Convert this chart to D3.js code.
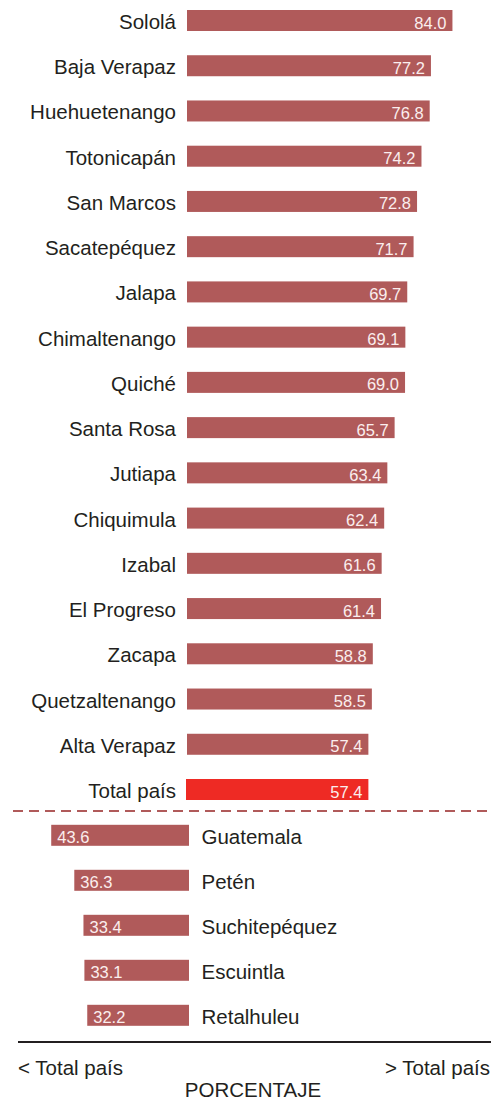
<!DOCTYPE html>
<html>
<head>
<meta charset="utf-8">
<script src="https://cdn.jsdelivr.net/npm/d3@7"></script>
<style>
  body { margin: 0; background: #fff; }
  text { font-family: "Liberation Sans", Arial, sans-serif; }
</style>
</head>
<body>
<svg id="chart" width="491" height="1101"></svg>
<script>
// departments above national total
const upperNames = ["Sololá", "Baja Verapaz", "Huehuetenango", "Totonicapán", "San Marcos",
  "Sacatepéquez", "Jalapa", "Chimaltenango", "Quiché", "Santa Rosa", "Jutiapa",
  "Chiquimula", "Izabal", "El Progreso", "Zacapa", "Quetzaltenango", "Alta Verapaz"];
const upperValues = [84.0, 77.2, 76.8, 74.2, 72.8, 71.7, 69.7, 69.1, 69.0, 65.7, 63.4,
  62.4, 61.6, 61.4, 58.8, 58.5, 57.4];
const totalName = "Total país";
const totalValue = 57.4;
// departments below national total
const lowerNames = ["Guatemala", "Petén", "Suchitepéquez", "Escuintla", "Retalhuleu"];
const lowerValues = [43.6, 36.3, 33.4, 33.1, 32.2];

const svg = d3.select("#chart");
const barColor = "#b05a5a";
const totalColor = "#ee2a24";
const barH = 21;
const x0 = 187;   // left edge of upper bars
const x1 = 189;   // right edge of lower bars

const xScale = d3.scaleLinear().domain([0, 84]).range([0, 84 * 3.16]);

const upperData = upperNames.map((n, i) => ({ name: n, value: upperValues[i], total: false }));
upperData.push({ name: totalName, value: totalValue, total: true });
const yUpper = d3.scaleLinear().domain([0, upperData.length - 1]).range([20.5, 789.5]);

const lowerData = lowerNames.map((n, i) => ({ name: n, value: lowerValues[i] }));
const yLower = d3.scaleLinear().domain([0, lowerData.length - 1]).range([835.3, 1015.3]);

// upper bars
const up = svg.append("g").selectAll("g").data(upperData).join("g");
up.append("rect")
    .attr("x", d => d.total ? x0 - 1 : x0)
    .attr("y", (d, i) => yUpper(i) - barH / 2)
    .attr("width", d => xScale(d.value) + (d.total ? 1 : 0))
    .attr("height", barH)
    .attr("fill", d => d.total ? totalColor : barColor);
up.append("text")
    .attr("x", x0 - 11)
    .attr("y", (d, i) => yUpper(i) + 8.5)
    .attr("text-anchor", "end")
    .attr("font-size", 20.5)
    .attr("fill", "#231f20")
    .text(d => d.name);
up.append("text")
    .attr("x", d => x0 + xScale(d.value) - 6)
    .attr("y", (d, i) => yUpper(i) + 8)
    .attr("text-anchor", "end")
    .attr("font-size", 16.5)
    .attr("fill", "#fbeeee")
    .text(d => d.value.toFixed(1));

// dashed separator
svg.append("line")
    .attr("x1", 13).attr("x2", 491)
    .attr("y1", 811).attr("y2", 811)
    .attr("stroke", barColor)
    .attr("stroke-width", 2)
    .attr("stroke-dasharray", "10,6");

// lower bars (grow leftwards)
const low = svg.append("g").selectAll("g").data(lowerData).join("g");
low.append("rect")
    .attr("x", d => x1 - xScale(d.value))
    .attr("y", (d, i) => yLower(i) - barH / 2)
    .attr("width", d => xScale(d.value))
    .attr("height", barH)
    .attr("fill", barColor);
low.append("text")
    .attr("x", x1 + 12.5)
    .attr("y", (d, i) => yLower(i) + 8.5)
    .attr("font-size", 20.5)
    .attr("fill", "#231f20")
    .text(d => d.name);
low.append("text")
    .attr("x", d => x1 - xScale(d.value) + 6)
    .attr("y", (d, i) => yLower(i) + 8)
    .attr("font-size", 16.5)
    .attr("fill", "#fbeeee")
    .text(d => d.value.toFixed(1));

// bottom axis line and captions
svg.append("line")
    .attr("x1", 18).attr("x2", 491)
    .attr("y1", 1042).attr("y2", 1042)
    .attr("stroke", "#231f20")
    .attr("stroke-width", 2);
svg.append("text")
    .attr("x", 18).attr("y", 1075)
    .attr("font-size", 20.5).attr("fill", "#231f20")
    .text("< Total país");
svg.append("text")
    .attr("x", 490).attr("y", 1075)
    .attr("text-anchor", "end")
    .attr("font-size", 20.5).attr("fill", "#231f20")
    .text("> Total país");
svg.append("text")
    .attr("x", 253).attr("y", 1097)
    .attr("text-anchor", "middle")
    .attr("font-size", 20.5).attr("fill", "#231f20")
    .text("PORCENTAJE");
</script>
</body>
</html>
